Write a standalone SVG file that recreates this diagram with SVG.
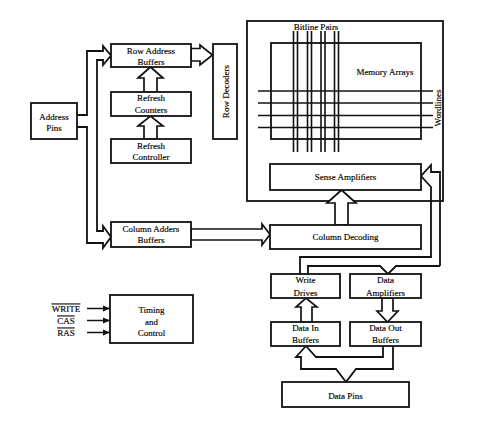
<svg xmlns="http://www.w3.org/2000/svg" width="496" height="432" viewBox="0 0 496 432">
<style>
.b{fill:#fff;stroke:#111;stroke-width:1.8}
.o{fill:none;stroke:#111;stroke-width:1.8}
.h{fill:#fff;stroke:#111;stroke-width:1.7;stroke-linejoin:miter}
.w{fill:none;stroke:#111;stroke-width:1.6}
text{font-family:"Liberation Serif","Times New Roman",serif;font-size:9px;fill:#000;text-anchor:middle;stroke:#000;stroke-width:0.15}
</style>
<defs>
<marker id="ah" markerWidth="8" markerHeight="8" refX="7" refY="4" orient="auto" markerUnits="userSpaceOnUse">
<path d="M0,1 L7,4 L0,7 Z" fill="#111"/>
</marker>
</defs>
<rect width="496" height="432" fill="#fff"/>

<g id="memory-block">
<rect class="o" x="247" y="21" width="196" height="180"/>
<rect class="o" x="271" y="43" width="150" height="96"/>
<g class="w">
<line x1="293.5" y1="31" x2="293.5" y2="152"/><line x1="297.5" y1="31" x2="297.5" y2="152"/>
<line x1="307.5" y1="31" x2="307.5" y2="152"/><line x1="311.5" y1="31" x2="311.5" y2="152"/>
<line x1="321" y1="31" x2="321" y2="152"/><line x1="325" y1="31" x2="325" y2="152"/>
<line x1="334.5" y1="31" x2="334.5" y2="152"/><line x1="338.5" y1="31" x2="338.5" y2="152"/>
<line x1="258" y1="91" x2="433" y2="91"/><line x1="258" y1="103" x2="433" y2="103"/>
<line x1="258" y1="115.5" x2="433" y2="115.5"/><line x1="258" y1="127.5" x2="433" y2="127.5"/>
</g>
<text x="316" y="29.5">Bitline Pairs</text>
<text x="385" y="75">Memory Arrays</text>
<text transform="translate(441,108) rotate(-90)">Wordlines</text>
</g>

<g id="connectors">
<path class="o" d="M77,115 H87 V51 H103 V46 L111,55.5 L103,65 V60 H97 V231 H103 V226 L111,237 L103,248 V243 H87 V127 H77"/>
<polygon class="h" points="191,48.5 200,48.5 200,45 212.5,55 200,65 200,61 191,61"/>
<polygon class="h" points="144,92 144,78 138,78 150.5,67 163,78 157,78 157,92"/>
<polygon class="h" points="144,139 144,126 138,126 150.5,116 163,126 157,126 157,139"/>
<polygon class="h" points="191,229 262,229 262,224 270,234.5 262,245 262,240 191,240"/>
<polygon class="h" points="335,225 335,203 327,203 341.5,190 356,203 348,203 348,225"/>
<path class="o" d="M440,266 V172 H431 V165 L421,176 L431,187 V257 H300 V274"/>
<path class="o" d="M440,266 H396 L388,274 L380,266 H308 V274"/>
<polygon class="h" points="301,322 301,307 296,307 306,298 317,307 312,307 312,322"/>
<polygon class="h" points="382,298 382,311 377,311 387.5,322 398,311 393,311 393,298"/>
<path class="o" d="M383,346 V357 H316 L306,346 L296,357 H301 V369 H336 L346,382 L356,369 H393 V346"/>
<g stroke="#111" stroke-width="1.5" marker-end="url(#ah)">
<line x1="87" y1="308.5" x2="110" y2="308.5"/>
<line x1="87" y1="320.5" x2="110" y2="320.5"/>
<line x1="87" y1="332.5" x2="110" y2="332.5"/>
</g>
</g>

<g id="address-pins"><rect class="b" x="31" y="103" width="46" height="36"/><text x="54" y="120">Address</text><text x="54" y="131">Pins</text></g>
<g id="row-address-buffers"><rect class="b" x="111" y="44" width="80" height="23"/><text x="151" y="53.5">Row Address</text><text x="151" y="64.5">Buffers</text></g>
<g id="refresh-counters"><rect class="b" x="111" y="92" width="80" height="24"/><text x="151" y="101">Refresh</text><text x="151" y="112.5">Counters</text></g>
<g id="refresh-controller"><rect class="b" x="111" y="139" width="80" height="24"/><text x="151" y="148.5">Refresh</text><text x="151" y="160">Controller</text></g>
<g id="row-decoders"><rect class="b" x="213" y="44" width="24" height="95"/><text transform="translate(228.5,91.5) rotate(-90)">Row Decoders</text></g>
<g id="column-adders-buffers"><rect class="b" x="111" y="222" width="80" height="25"/><text x="151" y="231.5">Column Adders</text><text x="151" y="243">Buffers</text></g>
<g id="sense-amplifiers"><rect class="b" x="270" y="164" width="151" height="26"/><text x="345.5" y="180">Sense Amplifiers</text></g>
<g id="column-decoding"><rect class="b" x="270" y="225" width="151" height="24"/><text x="345.5" y="240">Column Decoding</text></g>
<g id="write-drives"><rect class="b" x="271" y="274" width="69" height="24"/><text x="305.5" y="283">Write</text><text x="305.5" y="295.5">Drives</text></g>
<g id="data-amplifiers"><rect class="b" x="350" y="274" width="71" height="24"/><text x="385.5" y="283">Data</text><text x="385.5" y="295.5">Amplifiers</text></g>
<g id="data-in-buffers"><rect class="b" x="271" y="322" width="69" height="24"/><text x="305.5" y="330.5">Data In</text><text x="305.5" y="343">Buffers</text></g>
<g id="data-out-buffers"><rect class="b" x="350" y="322" width="71" height="24"/><text x="385.5" y="330.5">Data Out</text><text x="385.5" y="343">Buffers</text></g>
<g id="data-pins"><rect class="b" x="282" y="382" width="127" height="25"/><text x="345.5" y="398.5">Data Pins</text></g>
<g id="timing-control"><rect class="b" x="110" y="295" width="83" height="48"/><text x="151.5" y="313">Timing</text><text x="151.5" y="324.5">and</text><text x="151.5" y="336">Control</text></g>
<g id="control-signals">
<text x="66" y="311.5" text-decoration="overline">WRITE</text>
<text x="66" y="323.5" text-decoration="overline">CAS</text>
<text x="66" y="335.5" text-decoration="overline">RAS</text>
</g>
</svg>
